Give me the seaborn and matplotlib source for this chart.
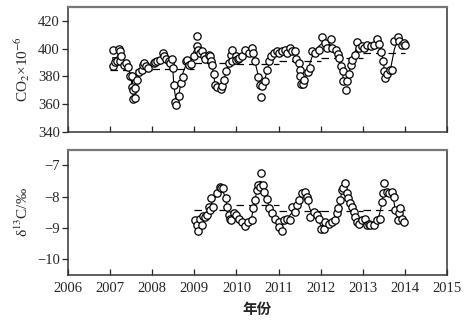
import numpy as np
import pandas as pd
import matplotlib
matplotlib.use("Agg")
import matplotlib.pyplot as plt
import seaborn as sns

# ---- data ----
co2_time = [2007.06, 2007.06, 2007.12, 2007.15, 2007.21, 2007.24, 2007.26, 2007.24, 2007.33, 2007.38,
            2007.43, 2007.46, 2007.52, 2007.52, 2007.55, 2007.55, 2007.59, 2007.60, 2007.64, 2007.69,
            2007.75, 2007.77, 2007.80, 2007.85, 2007.90,
            2008.03, 2008.07, 2008.11, 2008.19, 2008.25, 2008.27, 2008.33, 2008.39, 2008.43, 2008.47,
            2008.49, 2008.51, 2008.55, 2008.57, 2008.63, 2008.67, 2008.72, 2008.79, 2008.83, 2008.88,
            2008.92, 2008.98,
            2009.05, 2009.06, 2009.09, 2009.13, 2009.18, 2009.22, 2009.26, 2009.34, 2009.38, 2009.40,
            2009.42, 2009.46, 2009.48, 2009.54, 2009.62, 2009.66, 2009.70, 2009.76, 2009.82, 2009.86,
            2009.90, 2009.98, 2010.04,
            2009.90, 2010.00, 2010.06, 2010.13, 2010.21, 2010.29, 2010.37, 2010.40, 2010.45, 2010.51,
            2010.57, 2010.59, 2010.61, 2010.67, 2010.73, 2010.77, 2010.81, 2010.89, 2010.97, 2011.02,
            2011.08, 2011.16, 2011.20, 2011.28, 2011.32, 2011.40, 2011.41, 2011.48, 2011.50, 2011.52,
            2011.53, 2011.58, 2011.61, 2011.69, 2011.74, 2011.79, 2011.87, 2011.95,
            2012.04, 2012.10, 2012.16, 2012.24, 2012.28, 2012.36, 2012.40, 2012.44, 2012.48, 2012.52,
            2012.54, 2012.60, 2012.63, 2012.67, 2012.71, 2012.75, 2012.81, 2012.86, 2012.92, 2012.97,
            2013.03, 2013.11, 2013.19, 2013.27, 2013.33, 2013.39, 2013.44, 2013.49, 2013.51, 2013.52,
            2013.58, 2013.65, 2013.70, 2013.75, 2013.83, 2013.87, 2013.93, 2013.98, 2014.00]
co2_value = [387.7, 399.3, 390.0, 390.8, 399.8, 398.0, 394.5, 391.0, 388.0, 389.6,
             387.0, 380.5, 380.0, 372.3, 370.4, 363.6, 364.3, 371.6, 377.6, 382.9,
             384.8, 388.4, 389.6, 387.2, 386.0,
             389.6, 390.4, 390.8, 392.0, 396.9, 394.5, 392.5, 390.8, 389.6, 392.5,
             386.0, 374.0, 361.9, 359.5, 365.5, 375.2, 379.5, 390.8, 392.0, 388.4,
             389.0, 394.5,
             408.9, 401.7, 399.3, 396.9, 398.0, 394.5, 392.5, 395.7, 394.5, 390.8,
             388.0, 382.0, 374.0, 372.3, 370.8, 372.8, 377.6, 383.6, 389.6, 395.7,
             399.3, 394.5, 392.5,
             390.8, 392.0, 393.3, 394.5, 399.3, 396.9, 400.5, 396.9, 390.8, 379.5,
             374.0, 365.0, 372.8, 376.4, 384.3, 390.8, 394.5, 396.9, 398.0, 396.9,
             398.0, 399.3, 396.9, 400.5, 398.0, 398.0, 392.5, 389.6, 384.8, 380.0,
             374.7, 374.7, 377.6, 382.9, 386.0, 398.0, 396.9, 399.3,
             408.4, 404.0, 400.5, 406.5, 400.5, 399.3, 396.4, 393.3, 387.2, 383.6,
             376.4, 370.4, 376.4, 382.0, 388.4, 392.0, 395.7, 404.6, 400.5, 401.7,
             400.5, 402.9, 401.7, 402.9, 407.0, 403.6, 397.3, 390.8, 383.6, 378.8,
             382.0, 384.8, 384.8, 405.3, 408.4, 405.3, 402.9, 404.0, 402.9]

d13c_time = [2009.02, 2009.06, 2009.08, 2009.13, 2009.18, 2009.21, 2009.26, 2009.30, 2009.34, 2009.38,
             2009.40, 2009.44, 2009.54, 2009.60, 2009.63, 2009.68, 2009.74, 2009.78, 2009.81, 2009.85,
             2009.88, 2009.94, 2010.00,
             2010.05, 2010.13, 2010.20, 2010.28, 2010.36, 2010.40, 2010.44, 2010.48, 2010.52, 2010.55,
             2010.58, 2010.62, 2010.66, 2010.72, 2010.78, 2010.84, 2010.92, 2011.00, 2011.02, 2011.08,
             2011.12, 2011.20, 2011.27, 2011.31, 2011.39, 2011.43, 2011.48, 2011.55, 2011.63, 2011.67,
             2011.71, 2011.75, 2011.83, 2011.91, 2011.95, 2012.00, 2012.07, 2012.11, 2012.19, 2012.27,
             2012.35, 2012.39, 2012.42, 2012.46, 2012.50, 2012.54, 2012.58, 2012.62, 2012.66, 2012.70,
             2012.74, 2012.78, 2012.82, 2012.86, 2012.90, 2012.98, 2013.06, 2013.10, 2013.14, 2013.18,
             2013.26, 2013.34, 2013.40, 2013.45, 2013.49, 2013.51, 2013.57, 2013.63, 2013.69, 2013.73,
             2013.77, 2013.83, 2013.85, 2013.89, 2013.93, 2013.97]
d13c_value = [-8.75, -8.91, -9.09, -8.70, -8.91, -8.62, -8.66, -8.59, -8.32, -8.43,
              -8.05, -8.32, -7.89, -7.70, -7.73, -7.73, -8.05, -8.32, -8.59, -8.70,
              -8.75, -8.51, -8.59,
              -8.70, -8.81, -8.92, -8.81, -8.75, -8.37, -8.10, -7.80, -7.62, -7.68,
              -7.23, -7.62, -7.84, -8.08, -8.37, -8.53, -8.70, -8.80, -8.96, -9.09,
              -8.75, -8.70, -8.75, -8.32, -8.48, -8.27, -8.10, -7.89, -7.84, -8.00,
              -8.10, -8.64, -8.48, -8.59, -8.70, -9.02, -9.02, -8.80, -8.86, -8.80,
              -8.75, -8.53, -8.37, -8.10, -7.78, -7.73, -7.57, -7.89, -8.05, -8.21,
              -8.32, -8.48, -8.64, -8.80, -8.86, -8.75, -8.70, -8.91, -8.86, -8.91,
              -8.91, -8.75, -8.70, -8.16, -7.89, -7.57, -7.84, -7.89, -7.84, -8.00,
              -8.43, -8.75, -8.53, -8.37, -8.70, -8.80]

x_ticks = [2006, 2007, 2008, 2009, 2010, 2011, 2012, 2013, 2014, 2015]
co2_ticks = [340, 360, 380, 400, 420]
d13c_ticks = [-10, -9, -8, -7]

# ---- style ----
sns.set_theme(style="ticks")
plt.rcParams["font.family"] = ["Liberation Serif", "Noto Sans CJK SC", "DejaVu Sans"]
plt.rcParams["mathtext.fontset"] = "stix"

fig = plt.figure(figsize=(4.73, 3.25), dpi=100)
ax1 = fig.add_axes([0.144, 0.594, 0.801, 0.385])
ax2 = fig.add_axes([0.144, 0.154, 0.801, 0.385])


def draw(ax, t, v):
    df = pd.DataFrame({"t": t, "v": v}).sort_values("t").reset_index(drop=True)
    df["smooth"] = df["v"].rolling(3, center=True, min_periods=1).mean()
    sns.lineplot(data=df, x="t", y="smooth", ax=ax, color="black", lw=0.8,
                 estimator=None, sort=True, zorder=2)
    sns.scatterplot(data=df, x="t", y="v", ax=ax, s=28, facecolor="white",
                    edgecolor="black", linewidth=0.9, zorder=3)
    df["year"] = np.floor(df["t"]).astype(int)
    means = df[df["year"] < 2014].groupby("year")["v"].mean()
    ax.hlines(means.values, means.index, means.index + 1, colors="black",
              linestyles=(0, (6, 4)), lw=0.9, zorder=1)


draw(ax1, co2_time, co2_value)
draw(ax2, d13c_time, d13c_value)

for ax in (ax1, ax2):
    ax.set_xlim(2006, 2015)
    ax.set_xticks(x_ticks)
    ax.tick_params(axis="x", direction="in", length=4, width=0.9, pad=5)
    ax.tick_params(axis="y", direction="out", length=4, width=0.9, pad=2)
    ax.tick_params(labelsize=10.5)
    for s in ax.spines.values():
        s.set_visible(True)
        s.set_linewidth(1.1)
        s.set_color("#333333")
    ax.spines["top"].set_color("#777777")
    ax.spines["top"].set_linewidth(1.6)
    ax.set_xlabel("")

ax1.set_ylim(340, 430)
ax1.set_yticks(co2_ticks)
ax1.set_xticklabels([])
ax1.set_ylabel(r"CO$_2$×10$^{-6}$", fontsize=11, labelpad=4)

ax2.set_ylim(-10.5, -6.5)
ax2.set_yticks(d13c_ticks)
ax2.set_yticklabels([f"−{abs(v)}" for v in d13c_ticks])
ax2.set_xticklabels([str(x) for x in x_ticks])
ax2.set_ylabel(r"δ$^{13}$C/‰", fontsize=11, labelpad=4)
ax2.set_xlabel("年份", fontsize=10.5, family=["Noto Sans CJK SC", "DejaVu Sans"],
               fontweight="bold", labelpad=4)

fig.savefig("out.png", dpi=100)
